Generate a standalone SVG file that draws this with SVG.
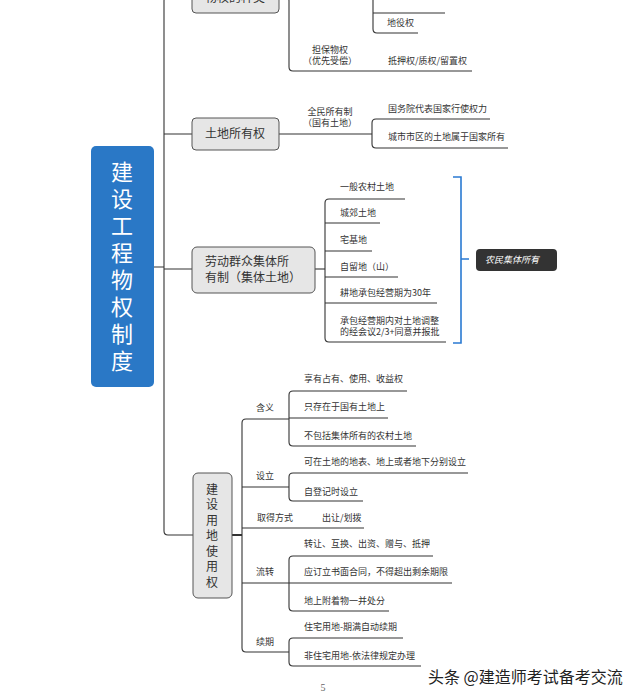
<svg xmlns="http://www.w3.org/2000/svg" width="640" height="698" viewBox="0 0 640 698">
<style>
text{font-family:"Noto Sans CJK SC","Noto Sans",sans-serif;fill:#333}
.leaf{font-size:9px}
.lbl{font-size:9px;text-anchor:middle}
.node{fill:#e6e6e6;stroke:#555;stroke-width:1}
.ntxt{font-size:12px}
.ln{fill:none;stroke:#333;stroke-width:1.1}
.vert{writing-mode:vertical-rl;text-orientation:upright}
</style>
<rect width="640" height="698" fill="#fff"/>
<g id="connectors" class="ln">
<path d="M192 -3H168Q164 -3 164 1V531Q164 535 168 535H193"/>
<path d="M154 267H164M164 134H192M164 269H192"/>
<path d="M279 -3H285Q289 -3 289 1V67Q289 71 293 71H472"/>
<path d="M373 -10V29Q373 33 377 33H418M373 13H445"/>
<path d="M279 134H372"/>
<path d="M490 119H376Q372 119 372 123V144Q372 148 376 148H508"/>
<path d="M315 269H325"/>
<path d="M405 199H329Q325 199 325 203V338Q325 342 329 342H446M325 223H380M325 251H372M325 277H398M325 303H437"/>
<path d="M232 535H242" stroke-width="2"/>
<path d="M289 419H246Q242 419 242 423V648Q242 652 246 652H289M242 487H289M242 528H364M242 583H289"/>
<path d="M407 391H293Q289 391 289 395V442Q289 446 293 446H416M289 418H388"/>
<path d="M468 473H293Q289 473 289 477V497Q289 501 293 501H363"/>
<path d="M433 556H293Q289 556 289 560V607Q289 611 293 611H389M289 583H452"/>
<path d="M403 638H293Q289 638 289 642V662Q289 666 293 666H421"/>
<path d="M453 177H461V343H453M461 259H469" stroke="#2a7ad2" stroke-width="1.6"/>
</g>
<g id="root">
<rect x="91" y="146" width="63" height="241" rx="5" fill="#2a78c6"/>
<text class="vert" x="122" y="161" font-size="22" letter-spacing="5" style="fill:#fff">建设工程物权制度</text>
</g>
<g id="n-wuquan">
<rect class="node" x="192" y="-20" width="87" height="33" rx="4"/>
<text class="ntxt" x="235" y="2" text-anchor="middle">物权的种类</text>
<text class="leaf" x="387" y="26">地役权</text>
<text class="lbl" x="330" y="53">担保物权<tspan x="330" dy="11">（优先受偿）</tspan></text>
<text class="leaf" x="388" y="64">抵押权/质权/留置权</text>
</g>
<g id="n-tudi">
<rect class="node" x="192" y="118" width="87" height="32" rx="4"/>
<text class="ntxt" x="235" y="138" text-anchor="middle">土地所有权</text>
<text class="lbl" x="330" y="115">全民所有制<tspan x="330" dy="11">（国有土地）</tspan></text>
<text class="leaf" x="388" y="112">国务院代表国家行使权力</text>
<text class="leaf" x="388" y="140">城市市区的土地属于国家所有</text>
</g>
<g id="n-jiti">
<rect class="node" x="192" y="247" width="123" height="46" rx="5"/>
<text class="ntxt" x="205" y="266">劳动群众集体所<tspan x="205" dy="16">有制（集体土地）</tspan></text>
<text class="leaf" x="340" y="190">一般农村土地</text>
<text class="leaf" x="340" y="216">城郊土地</text>
<text class="leaf" x="340" y="243">宅基地</text>
<text class="leaf" x="340" y="270">自留地（山）</text>
<text class="leaf" x="340" y="296">耕地承包经营期为30年</text>
<text class="leaf" x="340" y="324">承包经营期内对土地调整<tspan x="340" dy="11">的经会议2/3+同意并报批</tspan></text>
</g>
<g id="n-nongmin">
<rect x="476" y="249" width="81" height="22" rx="4" fill="#333"/>
<text x="485" y="263" font-size="9" font-style="italic" style="fill:#fff">农民集体所有</text>
</g>
<g id="n-jianshe">
<rect class="node" x="193" y="473" width="39" height="125" rx="5"/>
<text class="vert" x="212" y="483" font-size="12" letter-spacing="3.5">建设用地使用权</text>
<text class="lbl" x="265" y="411">含义</text>
<text class="leaf" x="304" y="382">享有占有、使用、收益权</text>
<text class="leaf" x="304" y="410">只存在于国有土地上</text>
<text class="leaf" x="304" y="439">不包括集体所有的农村土地</text>
<text class="lbl" x="265" y="479">设立</text>
<text class="leaf" x="304" y="465">可在土地的地表、地上或者地下分别设立</text>
<text class="leaf" x="304" y="495">自登记时设立</text>
<text class="leaf" x="257" y="521">取得方式</text>
<text class="leaf" x="322" y="521">出让/划拨</text>
<text class="lbl" x="265" y="575">流转</text>
<text class="leaf" x="304" y="547">转让、互换、出资、赠与、抵押</text>
<text class="leaf" x="304" y="575">应订立书面合同，不得超出剩余期限</text>
<text class="leaf" x="304" y="604">地上附着物一并处分</text>
<text class="lbl" x="265" y="645">续期</text>
<text class="leaf" x="304" y="630">住宅用地-期满自动续期</text>
<text class="leaf" x="304" y="659">非住宅用地-依法律规定办理</text>
</g>
<g id="footer">
<text x="323" y="691" font-size="10" text-anchor="middle" style="font-family:'Liberation Serif',serif;fill:#666">5</text>
<text x="428" y="683" font-size="16" style="fill:#222">头条 @建造师考试备考交流</text>
</g>
</svg>
